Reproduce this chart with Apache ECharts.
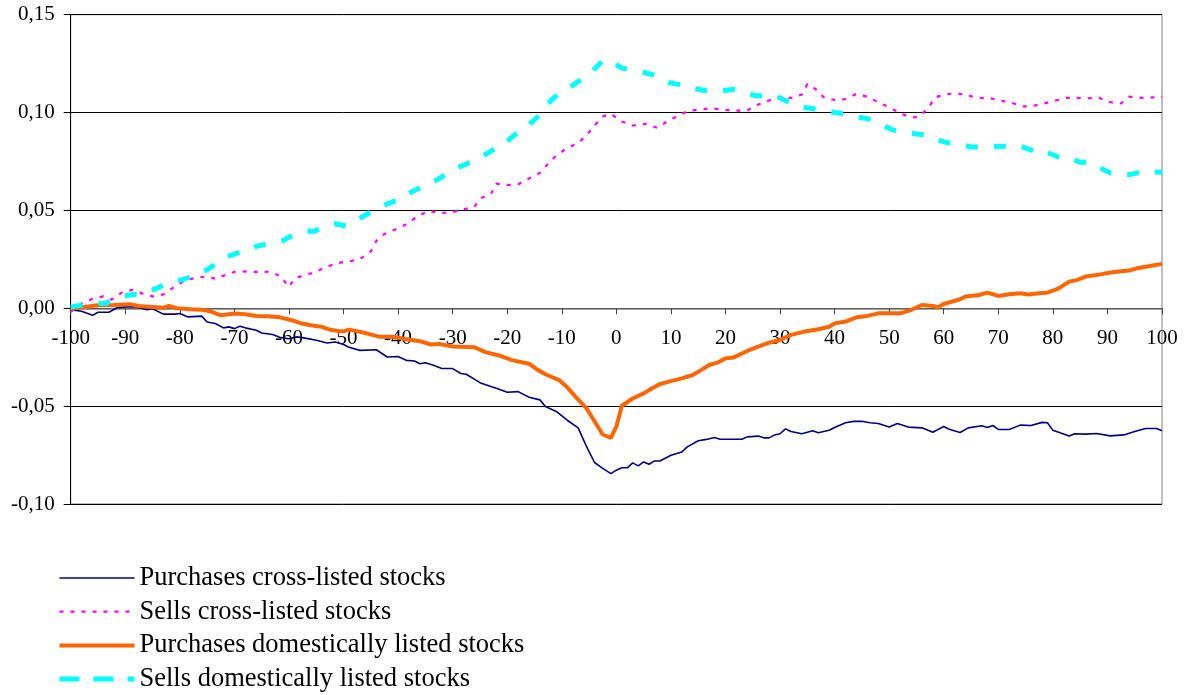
<!DOCTYPE html>
<html>
<head>
<meta charset="utf-8">
<script src="https://cdn.jsdelivr.net/npm/echarts@6/dist/echarts.min.js"></script>
<style>html,body{margin:0;padding:0;background:#fff;}#c{width:1187px;height:695px;}</style>
</head>
<body>
<div id="c"></div>
<script>
var seriesNames = ["Purchases cross-listed stocks", "Sells cross-listed stocks", "Purchases domestically listed stocks", "Sells domestically listed stocks"];
var xTicks = {min: -100, max: 100, step: 10};
var yTicks = {min: -0.10, max: 0.15, step: 0.05};

var purchasesCross = [[-100,-0.0007],[-98,-0.0015],[-96,-0.0036],[-95,-0.002],[-93,-0.002],[-91.5,0.0003],[-90,0.0007],[-88,0.0007],[-86,-0.0007],[-85,-0.0002],[-83,-0.003],[-81,-0.003],[-80,-0.0027],[-78.5,-0.0044],[-76,-0.004],[-75,-0.007],[-73.5,-0.0078],[-72,-0.010],[-71,-0.0095],[-70,-0.0104],[-69,-0.0092],[-68,-0.010],[-66,-0.0112],[-65,-0.0126],[-63,-0.0134],[-61.5,-0.015],[-60,-0.0156],[-58.5,-0.0146],[-56.5,-0.0155],[-55,-0.0163],[-53,-0.0177],[-51.5,-0.0172],[-50,-0.0185],[-49,-0.0199],[-47,-0.0215],[-44,-0.0212],[-42,-0.0249],[-40,-0.0246],[-38.5,-0.0266],[-37,-0.0269],[-36,-0.0283],[-35,-0.0278],[-33.5,-0.0291],[-32,-0.0308],[-30,-0.0308],[-28.5,-0.0333],[-27.5,-0.0337],[-25,-0.038],[-23,-0.040],[-22,-0.0409],[-20,-0.0429],[-18,-0.0426],[-16,-0.0455],[-14,-0.0468],[-13,-0.0502],[-11,-0.0527],[-9,-0.0572],[-7,-0.0611],[-5.5,-0.0704],[-4,-0.0788],[-2.5,-0.0818],[-1,-0.0845],[0,-0.0827],[1,-0.0815],[2,-0.0815],[3,-0.079],[4,-0.0805],[5,-0.0785],[6,-0.0797],[7,-0.078],[8,-0.078],[10,-0.0751],[12,-0.0734],[13,-0.0708],[15,-0.0677],[16.5,-0.067],[18,-0.066],[19,-0.0669],[21,-0.0669],[23,-0.0669],[24,-0.0657],[26,-0.0653],[27,-0.0662],[28,-0.0662],[29,-0.0647],[30,-0.0641],[31,-0.0616],[32,-0.063],[34,-0.0641],[36,-0.0626],[37,-0.0636],[39,-0.0623],[40,-0.0609],[42,-0.0585],[43.5,-0.0578],[45,-0.0577],[46.5,-0.0585],[48,-0.0589],[50,-0.0607],[51.5,-0.0589],[53.5,-0.0607],[56,-0.0611],[58,-0.0633],[60,-0.0604],[61,-0.0618],[63,-0.0635],[64.5,-0.0611],[67,-0.060],[68,-0.0609],[69,-0.0599],[70,-0.0619],[72,-0.0619],[74,-0.0597],[76,-0.0599],[78,-0.0583],[79,-0.0585],[80,-0.0623],[83,-0.0652],[84,-0.0641],[86,-0.0643],[88,-0.064],[90.5,-0.0652],[93,-0.0647],[95,-0.063],[97,-0.0614],[99,-0.0614],[100,-0.0626]];

var sellsCross = [[-100,-0.0019],[-98,0.0024],[-96,0.0049],[-94,0.0061],[-92.5,0.0044],[-90.5,0.0083],[-88.5,0.0095],[-86.5,0.0071],[-85,0.0061],[-83,0.0071],[-81,0.0109],[-79,0.0143],[-77,0.0156],[-75,0.0163],[-73.5,0.0151],[-71,0.0177],[-69.5,0.019],[-67.5,0.0187],[-65,0.0185],[-63.5,0.0187],[-61.5,0.0163],[-60,0.0109],[-59,0.0151],[-57,0.0173],[-55.5,0.018],[-53.5,0.0207],[-51.5,0.0228],[-50,0.0236],[-49,0.0239],[-47,0.0251],[-45,0.029],[-44,0.0344],[-42.5,0.038],[-40.5,0.0403],[-38.5,0.043],[-36.5,0.0468],[-34.5,0.0498],[-32.5,0.0488],[-30.5,0.0488],[-28.5,0.0502],[-26,0.0519],[-25,0.0561],[-23,0.0583],[-22,0.0637],[-20,0.0629],[-18,0.0634],[-16,0.0663],[-14,0.0692],[-12.5,0.0739],[-11,0.0781],[-9,0.0819],[-7,0.0844],[-5.5,0.0883],[-4,0.0934],[-2.5,0.098],[-1,0.0993],[1,0.0954],[3,0.0934],[5.5,0.0942],[7.5,0.0922],[9.5,0.0959],[11.5,0.0985],[13,0.1007],[15,0.1015],[17.5,0.1022],[19.5,0.1014],[22,0.101],[24,0.101],[25.5,0.1036],[27.5,0.1056],[29.5,0.1078],[32,0.1075],[34,0.1092],[35,0.1146],[36.5,0.112],[38,0.1078],[40,0.1064],[42,0.1069],[44,0.1095],[46,0.1081],[48,0.1053],[50,0.1027],[52,0.0997],[54,0.0973],[55.5,0.098],[57,0.1019],[58.5,0.1078],[60,0.1092],[62,0.1098],[64,0.1092],[66,0.1075],[68.5,0.1073],[70.5,0.1061],[72.5,0.1049],[74.5,0.1032],[76,0.1032],[78,0.1044],[80,0.1058],[82.5,0.1075],[84.5,0.1075],[86.5,0.1073],[88.5,0.1075],[90.5,0.1053],[92.5,0.1047],[94,0.1081],[96.5,0.1075],[98.5,0.1078],[100,0.108]];

var purchasesDomestic = [[-100,-0.0002],[-97.5,0.0007],[-95,0.0015],[-92,0.0017],[-89,0.002],[-87.5,0.0012],[-85,0.0007],[-83,0.0003],[-82,0.0012],[-80.5,0],[-78,-0.0005],[-76,-0.0007],[-74.5,-0.0015],[-72.5,-0.0036],[-70,-0.0027],[-68,-0.0031],[-66,-0.0039],[-64,-0.0041],[-62,-0.0044],[-59.5,-0.0061],[-58,-0.0075],[-56,-0.0087],[-54,-0.0095],[-52.5,-0.0109],[-51,-0.0116],[-50,-0.0118],[-49,-0.0109],[-46.5,-0.0123],[-43.5,-0.0145],[-41,-0.0145],[-38.5,-0.0158],[-36,-0.0168],[-34,-0.0185],[-32.5,-0.0182],[-30,-0.0195],[-26,-0.0199],[-24,-0.0224],[-21.5,-0.0241],[-19,-0.0266],[-16,-0.0283],[-14.5,-0.0313],[-13,-0.0337],[-10.5,-0.0367],[-9,-0.0404],[-7.5,-0.0451],[-5.5,-0.051],[-4,-0.0577],[-2.5,-0.0645],[-1,-0.0662],[0,-0.0605],[1,-0.0498],[3,-0.0461],[5,-0.0435],[6,-0.0418],[8,-0.0387],[10,-0.0372],[12,-0.0358],[14,-0.0341],[15.5,-0.0316],[17,-0.029],[18.5,-0.0278],[20,-0.0256],[21.5,-0.0251],[24,-0.0218],[26,-0.0196],[28,-0.0176],[30,-0.0162],[32,-0.0136],[34.5,-0.0119],[37,-0.0107],[39,-0.0094],[40,-0.0077],[42,-0.0068],[44,-0.0046],[46,-0.0039],[48,-0.0026],[52,-0.0026],[54,-0.0009],[56,0.0017],[58,0.0012],[59,0.0005],[60,0.0022],[63,0.0046],[64,0.006],[66.5,0.0068],[68,0.008],[70,0.0063],[72,0.0072],[74,0.0077],[75.5,0.007],[77.5,0.0077],[79,0.008],[81,0.0101],[83,0.0136],[84.5,0.0145],[86,0.0162],[88.5,0.0172],[90.5,0.0183],[92.5,0.0189],[94,0.0193],[95.5,0.0205],[98,0.0217],[100,0.0227]];

var sellsDomestic = [[-100,0.0007],[-98,0.0015],[-95,0.0024],[-93.5,0.0026],[-92,0.0049],[-91,0.0061],[-88,0.0072],[-87,0.0072],[-84,0.0105],[-82,0.0134],[-79.5,0.0146],[-76,0.0185],[-75,0.0197],[-72.5,0.0245],[-71.5,0.0262],[-68,0.0296],[-67,0.0299],[-66,0.0316],[-64,0.033],[-61,0.0347],[-60,0.0364],[-57,0.0393],[-55.5,0.0393],[-52.5,0.0427],[-51.5,0.0432],[-50,0.0423],[-49.5,0.042],[-48,0.0442],[-45,0.0493],[-44,0.051],[-41,0.0544],[-40,0.0549],[-37.5,0.0595],[-36.5,0.0608],[-35,0.0637],[-33,0.0654],[-30,0.0705],[-29,0.0719],[-26,0.0756],[-25,0.0769],[-22,0.082],[-20.5,0.0837],[-19.5,0.0866],[-18,0.09],[-15.5,0.0951],[-14.5,0.0976],[-12.5,0.1047],[-11.5,0.1075],[-9,0.112],[-5,0.1197],[-2.5,0.1264],[-1.5,0.127],[0,0.1245],[1,0.1227],[2.5,0.122],[5.5,0.1202],[8,0.1183],[9.5,0.1154],[13,0.1136],[14,0.1124],[17,0.1108],[18.5,0.1108],[21.5,0.1119],[23.5,0.1103],[25.5,0.1086],[29,0.1086],[30,0.1075],[33,0.1034],[34,0.1027],[37.5,0.1014],[40,0.1],[42,0.0993],[45,0.0973],[46,0.0969],[49,0.0934],[50.5,0.0912],[53.5,0.0895],[56.5,0.0886],[58,0.0866],[61,0.0844],[62,0.0844],[65,0.0824],[66.5,0.0824],[69.5,0.0827],[74,0.0829],[77,0.0798],[78,0.0807],[81,0.0773],[82.5,0.0773],[85,0.0746],[87,0.0747],[89.5,0.0705],[90.5,0.0692],[92.5,0.0685],[94,0.0683],[97,0.07],[98.5,0.0697],[100,0.0695]];

var FONT = "'Liberation Serif', 'Times New Roman', serif";
var styles = [
  {color: '#000080', width: 1.6, type: 'solid'},
  {color: '#FF00FF', width: 2.2, type: [4, 7]},
  {color: '#FF6600', width: 4, type: 'solid'},
  {color: '#00FFFF', width: 5, type: [12, 16]}
];
var seriesData = [purchasesCross, sellsCross, purchasesDomestic, sellsDomestic];

var chart = echarts.init(document.getElementById('c'), null, {renderer: 'canvas'});
var option = {
  animation: false,
  backgroundColor: '#ffffff',
  grid: {left: 70.7, right: 25, top: 14.7, bottom: 191, show: true, borderColor: '#808080', borderWidth: 1, backgroundColor: 'transparent'},
  legend: {
    orient: 'vertical', left: 57, top: 563, bottom: 0, padding: 0,
    itemWidth: 75, itemHeight: 14, itemGap: 3.7,
    itemStyle: {opacity: 0},
    textStyle: {fontFamily: FONT, fontSize: 26.5, color: '#000', lineHeight: 30},
    data: seriesNames.map(function(n, i){
      return {name: n, lineStyle: {color: styles[i].color, width: i === 2 ? 4 : styles[i].width, type: i === 3 ? [20, 14] : styles[i].type}};
    })
  },
  xAxis: {
    type: 'value', min: xTicks.min, max: xTicks.max, interval: xTicks.step,
    position: 'bottom', offset: 0,
    axisLine: {show: true, onZero: false, lineStyle: {color: '#808080', width: 1.5}},
    axisTick: {show: true, inside: false, length: 6, lineStyle: {color: '#404040', width: 1}},
    axisLabel: {fontFamily: FONT, fontSize: 21, color: '#000', margin: 20, formatter: function(v){return String(Math.round(v));}},
    splitLine: {show: false}
  },
  yAxis: {
    type: 'value', min: yTicks.min, max: yTicks.max, interval: yTicks.step,
    axisLine: {show: true, onZero: false, lineStyle: {color: '#000', width: 1}},
    axisTick: {show: true, length: 7, lineStyle: {color: '#000', width: 1}},
    axisLabel: {fontFamily: FONT, fontSize: 21, color: '#000', margin: 16, formatter: function(v){return v.toFixed(2).replace('.', ',');}},
    splitLine: {show: true, lineStyle: {color: '#000', width: 1}}
  },
  series: seriesNames.map(function(n, i){
    return {name: n, type: 'line', data: seriesData[i], symbol: 'none',
      lineStyle: {color: styles[i].color, width: styles[i].width, type: styles[i].type},
      itemStyle: {color: styles[i].color}};
  })
};
chart.setOption(option);
// Place the x axis where the y scale puts zero (the axis crosses at 0)
var yZero = chart.convertToPixel({yAxisIndex: 0}, 0);
var yMin = chart.convertToPixel({yAxisIndex: 0}, yTicks.min);
chart.setOption({xAxis: {offset: -(yMin - yZero)}});
</script>
</body>
</html>
